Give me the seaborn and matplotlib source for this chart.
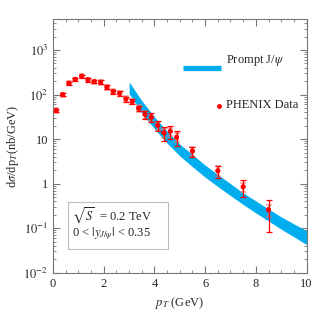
import numpy as np
import pandas as pd
import seaborn as sns
import matplotlib.pyplot as plt
from matplotlib.patches import Rectangle
from matplotlib.ticker import FixedLocator, MultipleLocator, LogLocator, NullFormatter

# PHENIX data points
pt = [0.125, 0.375, 0.625, 0.875, 1.125, 1.375, 1.625, 1.875, 2.125, 2.375,
      2.625, 2.875, 3.125, 3.375, 3.625, 3.875, 4.125, 4.375, 4.625, 4.875,
      5.5, 6.5, 7.5, 8.5]
xsec = [44, 100, 180, 220, 260, 216, 196, 190, 146, 117,
        107, 80, 70, 49, 36, 31, 20.4, 13.8, 15, 11,
        5.4, 1.95, 0.85, 0.26]
stat = [4, 8, 14, 18, 22, 20, 18, 20, 15, 13,
        13, 10, 9, 7, 7, 7, 5, 4.5, 5, 4,
        1.35, 0.6, 0.36, 0.18]
syst = [5, 10, 18, 22, 27, 24, 22, 22, 17, 15,
        14, 11, 10, 8, 7, 6, 4, 3, 3, 2.5,
        1.2, 0.5, 0.2, 0.08]

# prompt J/psi band (lower / upper edges)
band_pt = [3.0, 3.5, 4.0, 4.5, 5.0, 5.5, 6.0, 6.5, 7.0, 7.5, 8.0, 8.5, 9.0, 9.5, 10.0]
band_hi = [193, 73, 31.5, 15, 7.7, 4.5, 2.6, 1.6, 1.0, 0.62, 0.41, 0.27, 0.18, 0.125, 0.088]
band_lo = [105, 39, 17, 8.1, 4.2, 2.4, 1.4, 0.86, 0.54, 0.34, 0.22, 0.145, 0.095, 0.064, 0.043]

ytick_vals = [1e-2, 1e-1, 1, 10, 1e2, 1e3]
ytick_labels = ['$10^{-2}$', '$10^{-1}$', '1', '10', '$10^{2}$', '$10^{3}$']

df = pd.DataFrame({'pt': pt, 'xsec': xsec})

sns.set_style('ticks')
plt.rcParams['font.family'] = ['Liberation Serif', 'DejaVu Serif']
plt.rcParams['mathtext.fontset'] = 'stix'

fig = plt.figure(figsize=(3.16, 3.16), dpi=100)
ax = fig.add_axes([0.168, 0.137, 0.802, 0.803])

blue = '#00AEEF'
ax.fill_between(band_pt, band_lo, band_hi, color=blue, lw=0)

ax.errorbar(pt, xsec, yerr=syst, fmt='none', ecolor='#F07070',
            alpha=0.6, elinewidth=1.6, capsize=2.2, capthick=1.2)
ax.errorbar(pt, xsec, yerr=stat, fmt='none', ecolor='red', elinewidth=0.9, capsize=2, capthick=0.9)
sns.scatterplot(data=df, x='pt', y='xsec', ax=ax, color='red', s=14, edgecolor='none', zorder=5)

ax.set_yscale('log')
ax.set_xlim(0, 10)
ax.set_ylim(1e-2, 5e3)
ax.set_xticks([0, 2, 4, 6, 8, 10])
ax.xaxis.set_minor_locator(MultipleLocator(0.5))
ax.yaxis.set_major_locator(FixedLocator(ytick_vals))
ax.set_yticklabels(ytick_labels)
ax.yaxis.set_minor_locator(LogLocator(base=10, subs=np.arange(2, 10), numticks=20))
ax.yaxis.set_minor_formatter(NullFormatter())
ax.tick_params(which='both', direction='in', top=True, right=True, labelsize=9, color='#777777')
ax.tick_params(which='major', length=5)
ax.tick_params(which='minor', length=2.5)
for s in ax.spines.values():
    s.set_color('#777777')
    s.set_linewidth(0.8)

ax.set_xlabel('$p_T$ (GeV)', fontsize=9)
ax.set_ylabel(r'd$\sigma$/dp$_T$(nb/GeV)', fontsize=9, labelpad=2)

# legend drawn by hand
ax.plot([0.512, 0.662], [0.808, 0.808], transform=ax.transAxes, color=blue, lw=3.8,
        solid_capstyle='butt', clip_on=False)
ax.text(0.682, 0.838, 'Prompt J/$\\psi$', transform=ax.transAxes, fontsize=9, va='center')
ax.plot([0.654], [0.658], transform=ax.transAxes, color='red', marker='o', ms=2.5, lw=0)
ax.text(0.682, 0.66, 'PHENIX Data', transform=ax.transAxes, fontsize=9, va='center')

ax.add_patch(Rectangle((0.06, 0.095), 0.395, 0.185, transform=ax.transAxes,
                       fill=False, edgecolor='#bbbbbb', lw=0.8))
ax.text(0.075, 0.225, r'$\sqrt{S}$  = 0.2 TeV', transform=ax.transAxes, fontsize=9, va='center')
ax.text(0.075, 0.155, r'0 < $|y_{J/\psi}|$ < 0.35', transform=ax.transAxes, fontsize=9, va='center')

fig.savefig('out.png', dpi=100)
